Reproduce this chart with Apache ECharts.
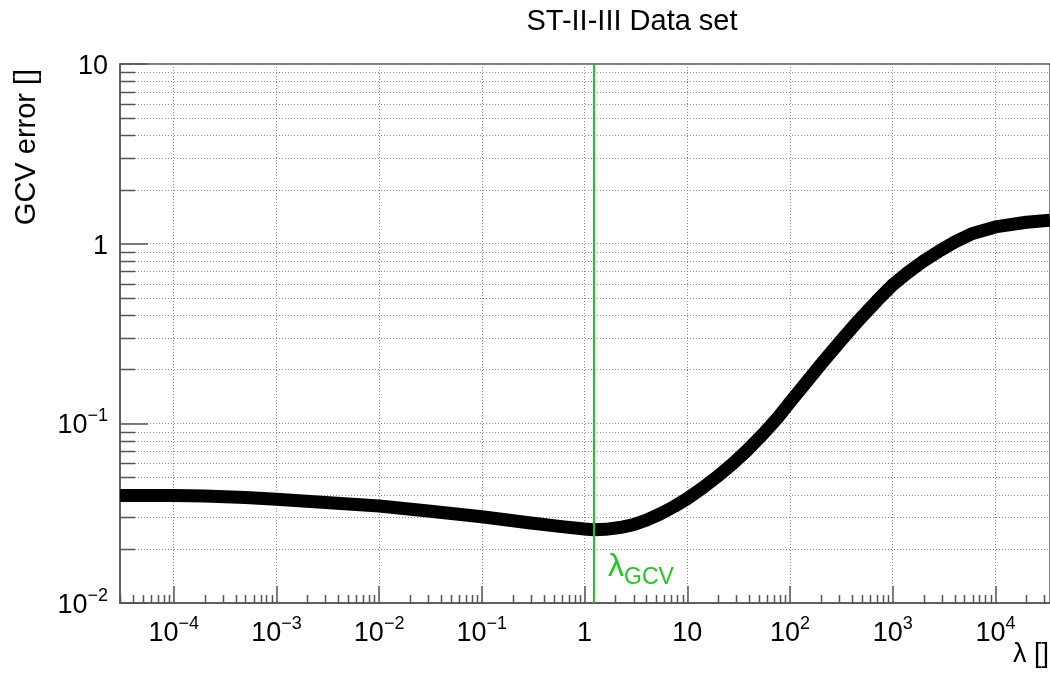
<!DOCTYPE html>
<html>
<head>
<meta charset="utf-8">
<script src="https://cdn.jsdelivr.net/npm/echarts@6/dist/echarts.min.js"></script>
<style>
html,body{margin:0;padding:0;background:#fff;}
#chart{width:1050px;height:675px;}
</style>
</head>
<body>
<div id="chart"></div>
<script>
// ---- data ----
const lambdaVals = [3e-5, 1e-4, 2e-4, 5e-4, 1e-3, 3e-3, 1e-2, 3e-2, 1e-1, 0.3, 0.6, 1, 1.22, 1.6, 2.2, 3, 4, 5.5, 7.5, 10, 14, 20, 28, 38, 55, 75, 100, 150, 215, 310, 455, 700, 1000, 1400, 2000, 2800, 4000, 6000, 10000, 20000, 34000];
const gcvVals    = [0.0396, 0.0396, 0.0394, 0.0386, 0.0378, 0.0363, 0.0347, 0.0325, 0.0302, 0.0279, 0.0266, 0.0258, 0.0256, 0.0257, 0.0263, 0.0273, 0.0289, 0.0314, 0.0345, 0.0381, 0.0436, 0.051, 0.060, 0.0705, 0.0875, 0.1065, 0.131, 0.174, 0.224, 0.286, 0.369, 0.48, 0.59, 0.69, 0.80, 0.905, 1.02, 1.14, 1.24, 1.315, 1.35];
const lambdaGCV = 1.22;

const xTickValues = [1e-4, 1e-3, 1e-2, 1e-1, 1, 10, 100, 1000, 10000];
const xTickLabels = ['10^−4', '10^−3', '10^−2', '10^−1', '1', '10', '10^2', '10^3', '10^4'];
const yTickValues = [0.01, 0.1, 1, 10];
const yTickLabels = ['10^−2', '10^−1', '1', '10'];

const titleText = 'ST-II-III Data set';
const yAxisTitle = 'GCV error []';
const xAxisTitle = 'λ []';

const xMin = 3e-5, xMax = 3.4e4, yMin = 0.01, yMax = 10;

// ---- helpers ----
function richLabel(s) {
  const parts = s.split('^');
  return parts.length > 1 ? '{b|' + parts[0] + '}{s|' + parts[1] + '}' : '{b|' + parts[0] + '}';
}
function makeFormatter(vals, labels) {
  return function (v) {
    for (let i = 0; i < vals.length; i++) {
      if (Math.abs(Math.log10(v) - Math.log10(vals[i])) < 1e-6) return richLabel(labels[i]);
    }
    return '';
  };
}
const FONT = 'Liberation Sans';
const labelRich = {
  b: { fontSize: 27, fontFamily: FONT, color: '#000', lineHeight: 32, verticalAlign: 'bottom' },
  s: { fontSize: 18, fontFamily: FONT, color: '#000', lineHeight: 32, verticalAlign: 'top' }
};

// minor tick positions (2..9 x 10^n)
const yMinor = [];
for (let n = -2; n <= 0; n++) for (let k = 2; k <= 9; k++) yMinor.push([xMin, k * Math.pow(10, n), 0]);
const xMinor = [];
for (let n = -5; n <= 4; n++) for (let k = 2; k <= 9; k++) {
  const v = k * Math.pow(10, n);
  if (v > xMin && v < xMax) xMinor.push([v, yMin, 1]);
}

const chart = echarts.init(document.getElementById('chart'), null, { renderer: 'canvas' });

const AXIS_COLOR = '#555';
const GRID_COLOR = '#8c8c8c';
const GREEN = '#1ec81e';

const option = {
  animation: false,
  backgroundColor: '#fff',
  title: {
    text: titleText,
    left: 627,
    textAlign: 'center',
    top: 2,
    textStyle: { fontFamily: FONT, fontSize: 29, fontWeight: 'normal', color: '#000' }
  },
  grid: {
    left: 120, right: -2, top: 64, bottom: 72,
    show: true, borderColor: AXIS_COLOR, borderWidth: 1.5, backgroundColor: 'transparent'
  },
  xAxis: {
    type: 'log', logBase: 10, min: xMin, max: xMax, splitNumber: 10,
    axisLine: { lineStyle: { color: AXIS_COLOR, width: 1.5 } },
    axisTick: { inside: true, length: 17, lineStyle: { color: AXIS_COLOR, width: 1.5 } },
    splitLine: { show: true, lineStyle: { color: GRID_COLOR, type: [1, 2], width: 1 } },
    axisLabel: {
      showMinLabel: false, showMaxLabel: false, margin: 12, fontSize: 27, fontFamily: FONT,
      formatter: makeFormatter(xTickValues, xTickLabels), rich: labelRich
    }
  },
  yAxis: {
    type: 'log', logBase: 10, min: yMin, max: yMax, splitNumber: 3,
    axisLine: { lineStyle: { color: AXIS_COLOR, width: 1.5 } },
    axisTick: { inside: true, length: 28, lineStyle: { color: AXIS_COLOR, width: 1.5 } },
    splitLine: { show: true, lineStyle: { color: GRID_COLOR, type: [1, 2], width: 1 } },
    axisLabel: {
      margin: 12, fontSize: 27, fontFamily: FONT,
      formatter: makeFormatter(yTickValues, yTickLabels), rich: labelRich
    }
  },
  graphic: [
    {
      type: 'text', x: 27, y: 147, rotation: Math.PI / 2,
      style: { text: yAxisTitle, font: '29px "Liberation Sans"', fill: '#000', align: 'center', verticalAlign: 'middle' }
    },
    {
      type: 'text', x: 1049, y: 655,
      style: { text: xAxisTitle, font: '27px "Liberation Sans"', fill: '#000', align: 'right', verticalAlign: 'middle' }
    },
    {
      type: 'text', x: 608, y: 570,
      style: {
        text: '{l|λ}{g|GCV}', fill: GREEN, align: 'left', verticalAlign: 'middle',
        rich: {
          l: { fontSize: 32, fontFamily: FONT, fill: GREEN, verticalAlign: 'top', lineHeight: 38 },
          g: { fontSize: 23, fontFamily: FONT, fill: GREEN, verticalAlign: 'bottom', lineHeight: 38 }
        }
      }
    }
  ],
  series: [
    {
      type: 'custom', z: 1, silent: true, clip: true,
      data: yMinor.concat(xMinor),
      renderItem: function (params, api) {
        const cs = params.coordSys;
        const kind = api.value(2);
        if (kind === 0) {
          const py = Math.round(api.coord([xMin, api.value(1)])[1]) + 0.5;
          return {
            type: 'group', children: [
              { type: 'line', shape: { x1: cs.x, y1: py, x2: cs.x + cs.width, y2: py }, style: { stroke: GRID_COLOR, lineDash: [1, 2], lineWidth: 1 } },
              { type: 'line', shape: { x1: cs.x, y1: py, x2: cs.x + 15, y2: py }, style: { stroke: AXIS_COLOR, lineWidth: 1.5 } }
            ]
          };
        } else {
          const px = Math.round(api.coord([api.value(0), yMin])[0]) + 0.5;
          const by = cs.y + cs.height;
          return { type: 'line', shape: { x1: px, y1: by, x2: px, y2: by - 8 }, style: { stroke: AXIS_COLOR, lineWidth: 1.5 } };
        }
      }
    },
    {
      type: 'line', name: 'GCV', z: 3,
      data: lambdaVals.map((l, i) => [l, gcvVals[i]]),
      showSymbol: false, symbol: 'none',
      smooth: false,
      lineStyle: { color: '#000', width: 13, join: 'round', cap: 'butt' },
      markLine: {
        silent: true, symbol: ['none', 'none'], label: { show: false },
        lineStyle: { color: GREEN, width: 2, type: 'solid' },
        data: [{ xAxis: lambdaGCV }]
      }
    }
  ]
};
chart.setOption(option);
</script>
</body>
</html>
